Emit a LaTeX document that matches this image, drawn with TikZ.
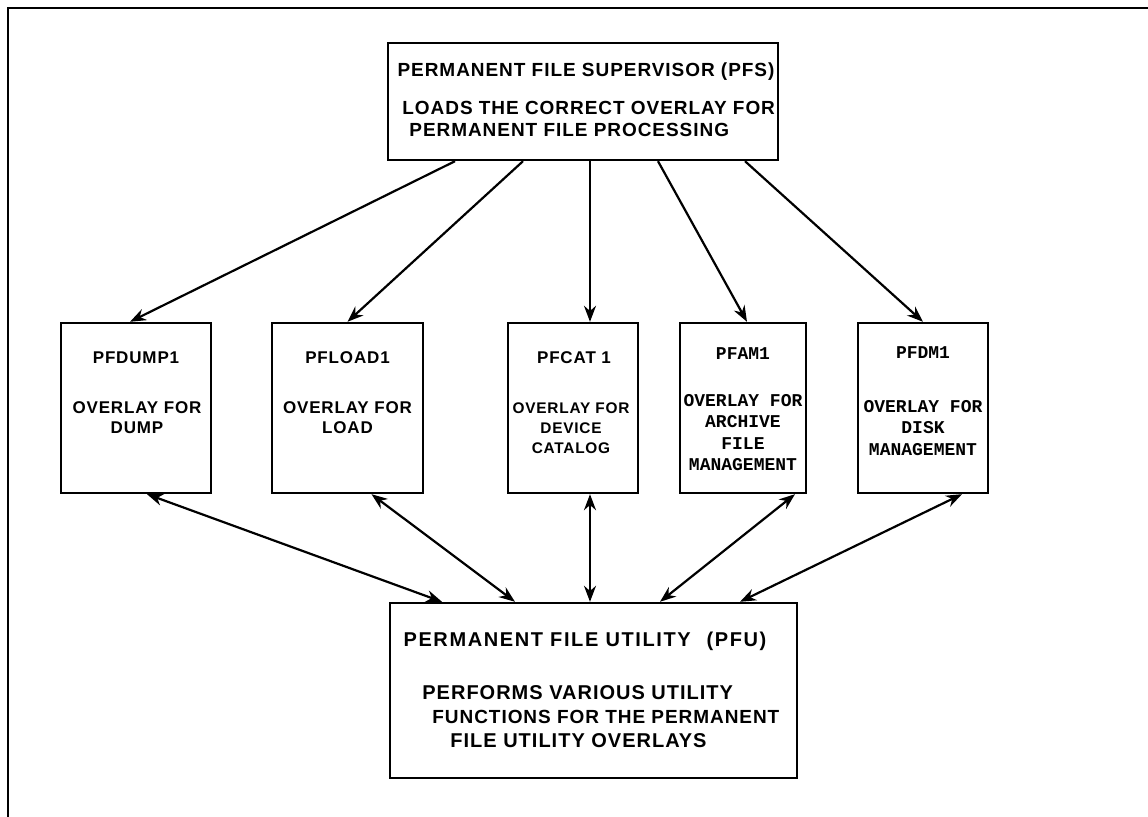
\documentclass[tikz,border=0pt]{standalone}
\usepackage{fontspec}
\setmainfont{Liberation Sans}[LetterSpace=5]
\newfontfamily\monolettering{Liberation Mono}
\usetikzlibrary{arrows.meta}
\usetikzlibrary{positioning}
\usetikzlibrary{calc}
\tikzset{
	block/.style={draw=black, line width=1.2pt, rectangle, inner sep=0pt},
	lettering/.style={inner sep=0pt, align=center,
		font=\bfseries\fontsize{8.5}{10}\selectfont},
	bigletter/.style={inner sep=0pt, align=center,
		font=\bfseries\fontsize{9.5}{11}\selectfont},
	monoletter/.style={inner sep=0pt, align=center,
		font=\monolettering\bfseries\fontsize{9}{10.7}\selectfont},
	flow/.style={draw=black, line width=1.1pt,
		-{Stealth[length=8pt,width=6pt]}},
	twoway/.style={draw=black, line width=1.1pt,
		{Stealth[length=8pt,width=6pt]}-{Stealth[length=8pt,width=6pt]}},
}

\begin{document}
\begin{tikzpicture}[x=0.5pt, y=-0.5pt]
		\useasboundingbox (0,0) rectangle (1148,817);
		% frame
		\draw[line width=1.4pt] (8,817) -- (8,8) -- (1148,8);
		% supervisor
		\node[block, minimum width=195pt, minimum height=58.5pt] (pfs) at (583,101.5) {};
		\node[bigletter] (pfsname) at (586,72) {PERMANENT FILE SUPERVISOR (PFS)};
		\node[bigletter, align=left, anchor=west] (pfsdesc) at (402,119)
			{LOADS THE CORRECT OVERLAY FOR\\\hspace{3.5pt}PERMANENT FILE PROCESSING};
		% overlays
		\node[block, minimum width=75pt, minimum height=85pt] (dump) at (136,408) {};
		\node[lettering] (dumpname) at (136,358) {PFDUMP1};
		\node[lettering] (dumptxt) at (137,418) {OVERLAY FOR\\DUMP};
		\node[block, minimum width=75.5pt, minimum height=85pt] (load) at (347.5,408) {};
		\node[lettering] (loadname) at (347.5,358) {PFLOAD1};
		\node[lettering] (loadtxt) at (347.5,418) {OVERLAY FOR\\LOAD};
		\node[block, minimum width=65pt, minimum height=85pt] (cat) at (573,408) {};
		\node[lettering] (catname) at (574,358) {PFCAT 1};
		\node[lettering, font=\bfseries\fontsize{7.7}{10}\selectfont] (cattxt) at (571,428)
			{OVERLAY FOR\\DEVICE\\CATALOG};
		\node[block, minimum width=63pt, minimum height=85pt] (am) at (743,408) {};
		\node[monoletter] (amname) at (743,354) {PFAM1};
		\node[monoletter] (amtxt) at (743,432.5) {OVERLAY FOR\\ARCHIVE\\FILE\\MANAGEMENT};
		\node[block, minimum width=65pt, minimum height=85pt] (dm) at (923,408) {};
		\node[monoletter] (dmname) at (923,353) {PFDM1};
		\node[monoletter] (dmtxt) at (923,428) {OVERLAY FOR\\DISK\\MANAGEMENT};
		% utility
		\node[block, minimum width=203.5pt, minimum height=87.5pt] (pfu) at (593.5,690.5) {};
		\node[bigletter, font=\bfseries\fontsize{10}{12}\selectfont\addfontfeature{LetterSpace=8}] (pfuname) at (585,641)
			{PERMANENT FILE UTILITY\hspace{8pt}(PFU)};
		\node[bigletter, align=left, anchor=west, font=\bfseries\fontsize{10}{12}\selectfont] (pfudesc) at (422,717)
			{PERFORMS VARIOUS UTILITY\\\hspace{5pt}{\fontsize{9.5}{12}\selectfont FUNCTIONS FOR THE PERMANENT}\\\hspace{14pt}FILE UTILITY OVERLAYS};
		% supervisor loads the overlays
		\draw[flow] ($(pfs.south)+(-128,0)$) -- ($(dump.north)+(-6,0)$);
		\draw[flow] ($(pfs.south)+(-60,0)$) -- ($(load.north)+(0,0)$);
		\draw[flow] ($(pfs.south)+(7,0)$) -- ($(cat.north)+(17,0)$);
		\draw[flow] ($(pfs.south)+(75,0)$) -- ($(am.north)+(4,0)$);
		\draw[flow] ($(pfs.south)+(162,0)$) -- ($(dm.north)+(0,0)$);
		% overlays and utility
		\draw[twoway] ($(dump.south)+(11,0)$) -- ($(pfu.north)+(-151.5,0)$);
		\draw[twoway] ($(load.south)+(24,0)$) -- ($(pfu.north)+(-78.5,0)$);
		\draw[twoway] ($(cat.south)+(17,0)$) -- ($(pfu.north)+(-3.5,0)$);
		\draw[twoway] ($(am.south)+(52,0)$) -- ($(pfu.north)+(66.5,0)$);
		\draw[twoway] ($(dm.south)+(39,0)$) -- ($(pfu.north)+(146.5,0)$);
\end{tikzpicture}
\end{document}
